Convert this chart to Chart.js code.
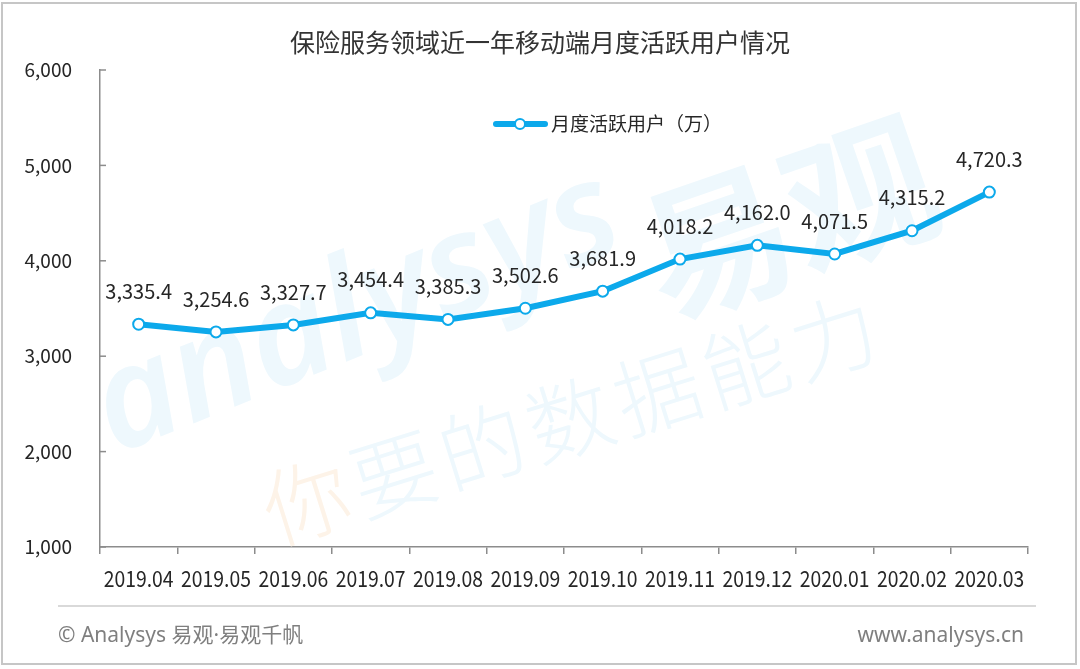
<!DOCTYPE html>
<html>
<head>
<meta charset="utf-8">
<script src="https://cdn.jsdelivr.net/npm/chart.js@4/dist/chart.umd.min.js"></script>
<style>
  html, body { margin: 0; padding: 0; background: #fff; }
  canvas { display: block; }
</style>
</head>
<body>
<canvas id="myChart" width="1080" height="669"></canvas>
<script>
const chartTitle = '保险服务领域近一年移动端月度活跃用户情况'
const seriesName = '月度活跃用户（万）'
const months = ['2019.04', '2019.05', '2019.06', '2019.07', '2019.08', '2019.09',
                '2019.10', '2019.11', '2019.12', '2020.01', '2020.02', '2020.03']
const activeUsers = [3335.4, 3254.6, 3327.7, 3454.4, 3385.3, 3502.6,
                     3681.9, 4018.2, 4162.0, 4071.5, 4315.2, 4720.3]
const yTicks = [1000, 2000, 3000, 4000, 5000, 6000]
const footerLeft = '© Analysys 易观·易观千帆'
const footerRight = 'www.analysys.cn'

const BLUE = '#0ca9eb'
const AXIS = '#8c8c8c'
const FONT = "'Noto Sans CJK SC', 'Noto Sans', sans-serif"
const LATIN_FIRST = "'Noto Sans', 'Noto Sans CJK SC', sans-serif"

const fmt = v => v.toLocaleString('en-US', { minimumFractionDigits: 1, maximumFractionDigits: 1 })

// faint brand watermark behind the line
const watermark = {
  id: 'watermark',
  beforeDatasetsDraw(chart) {
    const ctx = chart.ctx
    ctx.save()
    ctx.fillStyle = '#eef8fd'
    ctx.translate(115, 455)
    ctx.rotate(-22 * Math.PI / 180)
    ctx.font = "italic 600 140px 'Noto Sans', sans-serif"
    ctx.fillText('analysys', 0, 0)
    ctx.restore()

    ctx.save()
    ctx.fillStyle = '#eef8fd'
    ctx.translate(665, 320)
    ctx.rotate(-19 * Math.PI / 180)
    ctx.font = 'bold 150px ' + FONT
    ctx.fillText('易观', 0, 0)
    ctx.restore()

    const words = '你要的数据能力'.split('')
    ctx.save()
    ctx.translate(275, 545)
    ctx.rotate(-17.3 * Math.PI / 180)
    ctx.font = '300 86px ' + FONT
    words.forEach((w, i) => {
      ctx.fillStyle = i === 0 ? '#fdf3e8' : '#eef8fd'
      ctx.fillText(w, i * 92, 0)
    })
    ctx.restore()
  }
}

// value labels above every point
const valueLabels = {
  id: 'valueLabels',
  afterDatasetsDraw(chart) {
    const ctx = chart.ctx
    const meta = chart.getDatasetMeta(0)
    ctx.save()
    ctx.font = '20px ' + FONT
    ctx.fillStyle = '#262626'
    ctx.textAlign = 'center'
    ctx.textBaseline = 'middle'
    meta.data.forEach((pt, i) => {
      ctx.fillText(fmt(activeUsers[i]), pt.x, pt.y - 33)
    })
    ctx.restore()
  }
}

// title, legend, inner y ticks, x labels, footer, frame
const decor = {
  id: 'decor',
  afterDraw(chart) {
    const ctx = chart.ctx
    const { left } = chart.chartArea
    const y = chart.scales.y
    const x = chart.scales.x

    ctx.save()
    // y tick marks point inward
    ctx.strokeStyle = AXIS
    ctx.lineWidth = 1.5
    y.ticks.forEach((t, i) => {
      const py = y.getPixelForTick(i)
      ctx.beginPath()
      ctx.moveTo(left, py)
      ctx.lineTo(left + 6, py)
      ctx.stroke()
    })

    // x labels, slightly condensed like the original
    ctx.fillStyle = '#262626'
    ctx.font = '22px ' + FONT
    ctx.textAlign = 'center'
    ctx.textBaseline = 'middle'
    months.forEach((m, i) => {
      ctx.save()
      ctx.translate(x.getPixelForValue(i), 579)
      ctx.scale(0.88, 1)
      ctx.fillText(m, 0, 0)
      ctx.restore()
    })

    // title
    ctx.fillStyle = '#333'
    ctx.font = '25px ' + FONT
    ctx.fillText(chartTitle, 540, 42)

    // legend
    ctx.strokeStyle = BLUE
    ctx.lineWidth = 6
    ctx.lineCap = 'round'
    ctx.beginPath()
    ctx.moveTo(496, 124)
    ctx.lineTo(545, 124)
    ctx.stroke()
    ctx.lineWidth = 2
    ctx.fillStyle = '#fff'
    ctx.beginPath()
    ctx.arc(520, 124, 5, 0, Math.PI * 2)
    ctx.fill()
    ctx.stroke()
    ctx.fillStyle = '#262626'
    ctx.font = '19px ' + FONT
    ctx.textAlign = 'left'
    ctx.fillText(seriesName, 551, 124)

    // footer
    ctx.strokeStyle = '#d9d9d9'
    ctx.lineWidth = 2
    ctx.lineCap = 'butt'
    ctx.beginPath()
    ctx.moveTo(58, 606)
    ctx.lineTo(1036, 606)
    ctx.stroke()
    ctx.fillStyle = '#7f7f7f'
    ctx.font = '21px ' + LATIN_FIRST
    ctx.fillText(footerLeft, 58, 636)
    ctx.textAlign = 'right'
    ctx.fillText(footerRight, 1024, 636)

    // outer frame
    ctx.strokeStyle = '#c6c6c6'
    ctx.lineWidth = 2
    ctx.strokeRect(2, 3, 1074, 661)
    ctx.restore()
  }
}

new Chart(document.getElementById('myChart'), {
  type: 'line',
  data: {
    labels: months,
    datasets: [{
      label: seriesName,
      data: activeUsers,
      borderColor: BLUE,
      borderWidth: 6,
      tension: 0,
      pointRadius: 5.5,
      pointBorderWidth: 2,
      pointBackgroundColor: '#fff',
      pointBorderColor: BLUE
    }]
  },
  options: {
    responsive: false,
    animation: false,
    layout: { padding: { left: 0, right: 52, top: 70, bottom: 62 } },
    plugins: {
      legend: { display: false },
      title: { display: false },
      tooltip: { enabled: false }
    },
    scales: {
      x: {
        offset: true,
        grid: { display: true, offset: true, drawOnChartArea: false, tickLength: 7, color: AXIS, lineWidth: 1.5 },
        border: { display: true, color: AXIS, width: 1.5 },
        ticks: { display: false },
        afterFit: s => { s.height = 60 }
      },
      y: {
        min: yTicks[0],
        max: yTicks[yTicks.length - 1],
        afterBuildTicks: s => { s.ticks = yTicks.map(v => ({ value: v })) },
        grid: { display: false, drawTicks: false },
        border: { display: true, color: AXIS, width: 1.5 },
        ticks: {
          padding: 28,
          color: '#262626',
          font: { family: FONT, size: 19 },
          callback: v => v.toLocaleString('en-US')
        },
        afterFit: s => { s.width = 100 }
      }
    }
  },
  plugins: [watermark, valueLabels, decor]
})
</script>
</body>
</html>
